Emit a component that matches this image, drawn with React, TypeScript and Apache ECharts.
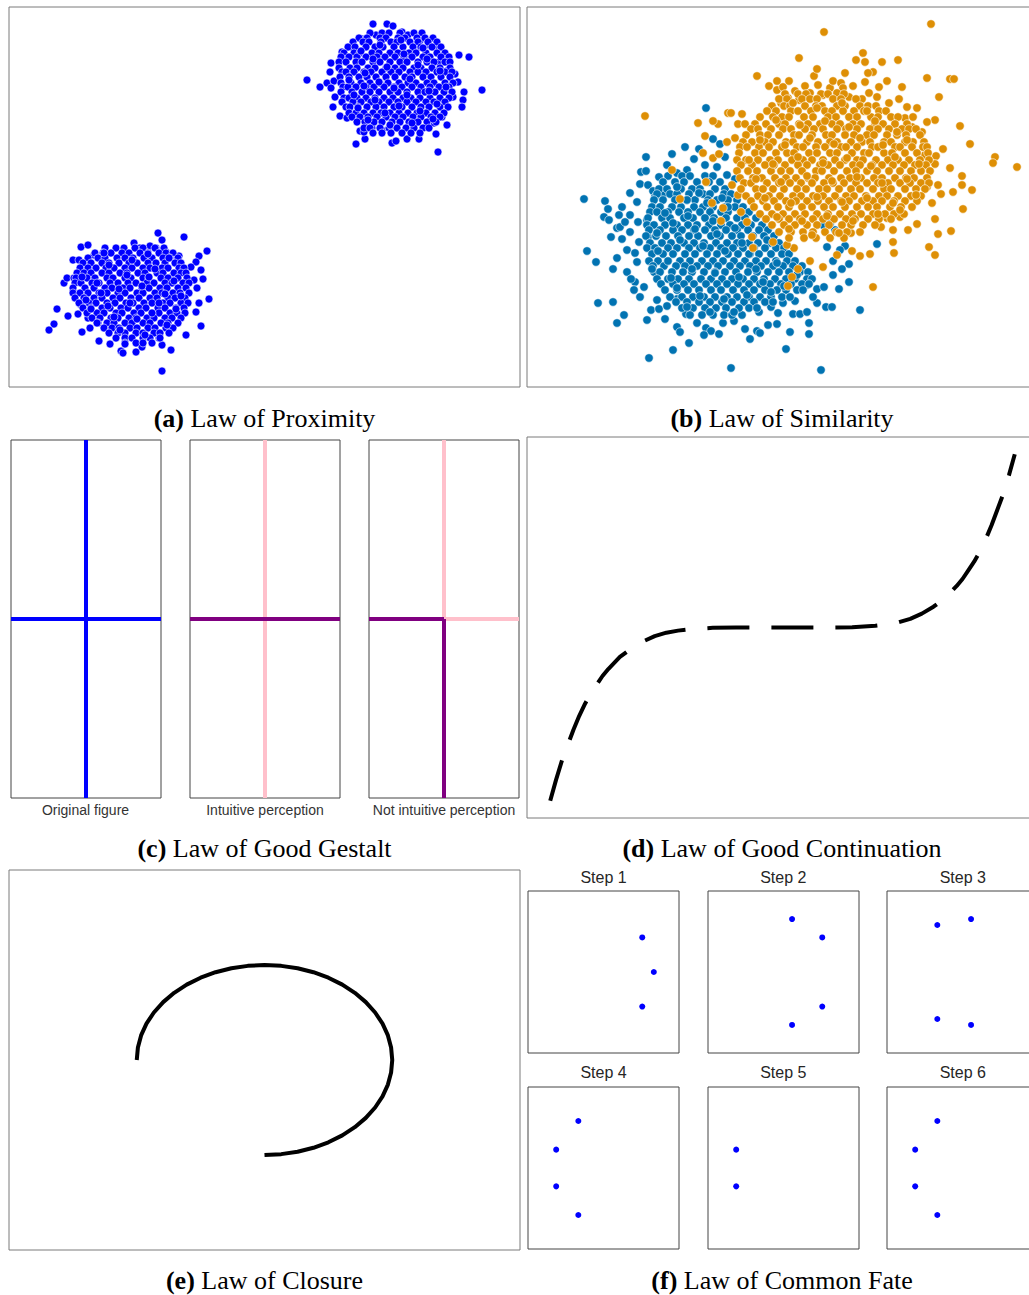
import React, { useEffect, useRef } from "react";
import * as echarts from "echarts";

// ---------- (a) Law of Proximity : two blobs (x right, y down, box units) ----------
// dense rows: [y, x1, x2, ...]
const proxUpperRows: number[][] = [
  [26, 361, 373, 380, 391, 405, 413],
  [31, 350, 358, 371, 377, 389, 396, 408, 416, 424],
  [35, 344, 354, 360, 372, 382, 388, 401, 409, 419, 428],
  [40, 339, 346, 357, 366, 374, 385, 394, 404, 412, 423, 432],
  [46, 335, 345, 351, 363, 370, 381, 389, 400, 407, 417, 428, 436],
  [50, 332, 340, 348, 357, 368, 376, 386, 395, 403, 414, 421, 432, 440],
  [55, 330, 337, 347, 353, 364, 371, 381, 391, 398, 409, 418, 425, 436, 441],
  [61, 330, 341, 348, 359, 366, 377, 386, 394, 405, 412, 423, 431, 441],
  [65, 333, 337, 345, 355, 362, 373, 382, 390, 401, 409, 417, 428, 436, 443],
  [70, 331, 340, 350, 358, 367, 377, 386, 396, 403, 414, 422, 432, 441],
  [76, 332, 342, 352, 361, 371, 379, 390, 399, 407, 418, 425, 436, 444],
  [80, 334, 339, 347, 357, 365, 375, 385, 393, 403, 412, 421, 430, 440],
  [85, 332, 343, 353, 361, 370, 381, 389, 398, 409, 416, 426, 435, 443],
  [91, 335, 340, 348, 357, 366, 375, 384, 394, 402, 411, 421, 431, 440],
  [95, 333, 344, 352, 362, 370, 380, 389, 398, 407, 417, 425, 436],
  [100, 337, 341, 349, 358, 367, 375, 385, 393, 403, 412, 420, 431, 439],
  [106, 340, 347, 355, 364, 372, 381, 390, 399, 408, 417, 426, 435],
  [110, 343, 351, 359, 368, 377, 386, 394, 404, 412, 422, 431],
  [115, 348, 356, 365, 373, 383, 391, 400, 409, 418, 427],
  [121, 355, 361, 371, 380, 388, 397, 405, 414, 420],
  [126, 364, 373, 382, 393, 402, 411],
];
const proxUpperExtra: number[] = [
  352, 44, 371, 38, 395, 47, 418, 52, 431, 64, 356, 66, 378, 60, 401, 72, 420, 84, 345, 88,
  366, 93, 390, 99, 411, 104, 428, 97, 359, 113, 381, 118, 403, 116, 340, 73, 385, 81, 409, 58,
  364, 52, 392, 33, 376, 106, 424, 112, 349, 101, 437, 80, 414, 41, 370, 75, 398, 88, 355, 79,
];
const proxUpperOut: number[] = [
  364, 17, 378, 17, 384, 19, 393, 25, 399, 28, 367, 28, 411, 34, 353, 32, 343, 40, 333, 45,
  335, 50, 322, 56, 321, 65, 298, 73, 311, 80, 318, 76, 325, 74, 322, 81, 326, 90, 324, 100,
  331, 109, 338, 111, 347, 137, 356, 132, 351, 124, 355, 125, 363, 121, 373, 123, 383, 136,
  387, 134, 398, 132, 410, 132, 427, 127, 429, 145, 425, 116, 438, 118, 433, 110, 450, 48,
  460, 50, 473, 83, 455, 85, 454, 93, 453, 100, 444, 90, 449, 75, 446, 67, 439, 63, 430, 55,
  427, 41, 420, 38, 407, 43,
];
const proxLowerRows: number[][] = [
  [241, 96, 107, 115, 126, 134, 146, 155],
  [246, 86, 94, 102, 113, 120, 131, 139, 150, 157, 164],
  [251, 79, 89, 96, 108, 116, 124, 135, 143, 154, 161, 169],
  [256, 74, 82, 93, 100, 110, 120, 128, 139, 147, 156, 166, 172],
  [261, 71, 79, 87, 97, 105, 116, 123, 134, 141, 153, 159, 170, 175],
  [266, 68, 75, 82, 93, 100, 111, 118, 129, 136, 148, 154, 165, 172, 177],
  [271, 67, 78, 86, 98, 104, 116, 122, 134, 140, 152, 159, 169, 178],
  [276, 66, 72, 83, 90, 101, 109, 119, 127, 138, 145, 156, 163, 174, 180],
  [281, 64, 76, 85, 96, 103, 114, 121, 133, 140, 151, 158, 169, 177],
  [286, 64, 71, 79, 90, 98, 109, 116, 128, 134, 146, 153, 164, 171, 180],
  [291, 66, 75, 85, 93, 104, 111, 122, 130, 141, 148, 159, 166, 176],
  [296, 70, 80, 87, 98, 106, 117, 124, 135, 143, 154, 161, 172, 179],
  [301, 74, 82, 93, 101, 112, 119, 130, 137, 149, 156, 167, 175],
  [306, 78, 88, 95, 107, 113, 125, 132, 143, 150, 161, 168, 176],
  [311, 83, 91, 102, 109, 120, 127, 138, 145, 156, 163, 172],
  [316, 89, 98, 105, 116, 123, 134, 141, 152, 159, 169],
  [321, 95, 103, 110, 121, 128, 139, 146, 157, 164],
  [326, 100, 109, 116, 127, 134, 145, 151, 160],
  [331, 107, 116, 123, 134, 141, 151],
  [336, 116, 127, 134, 143],
];
const proxLowerExtra: number[] = [
  100, 258, 123, 253, 146, 262, 165, 274, 88, 276, 110, 282, 133, 279, 156, 287, 77, 293, 99, 299,
  121, 296, 143, 306, 167, 302, 88, 316, 111, 323, 136, 328, 158, 318, 73, 270, 118, 268, 139, 247,
  95, 246, 172, 289, 128, 312, 105, 310, 150, 296, 82, 302, 116, 337, 160, 251, 140, 270, 92, 286,
];
const proxLowerOut: number[] = [
  149, 226, 175, 230, 153, 233, 198, 244, 190, 249, 187, 255, 170, 249, 182, 260, 192, 263,
  194, 272, 185, 273, 188, 281, 200, 292, 190, 296, 187, 305, 176, 296, 192, 319, 177, 328,
  162, 343, 153, 338, 150, 331, 153, 364, 133, 340, 127, 345, 112, 344, 114, 346, 101, 337,
  90, 334, 73, 325, 81, 321, 59, 309, 69, 307, 48, 302, 45, 317, 40, 323, 55, 276, 58, 271,
  65, 271, 64, 253, 70, 253, 72, 240, 79, 238, 85, 248, 125, 236, 131, 241, 141, 239, 147, 241,
  157, 245, 167, 256, 162, 270, 79, 311, 72, 298, 64, 285,
];

// ---------- (b) Law of Similarity : two overlapping groups ----------
const simBlueRows: number[][] = [
  [169, 141, 155, 163, 178, 186],
  [175, 136, 148, 157, 170, 182, 193],
  [182, 132, 140, 154, 165, 173, 188, 198],
  [187, 130, 143, 150, 162, 176, 183, 197, 204],
  [193, 127, 136, 148, 160, 168, 181, 190, 201, 210],
  [200, 125, 133, 145, 154, 167, 176, 186, 198, 208, 216],
  [205, 123, 130, 141, 152, 161, 173, 183, 194, 201, 214, 222],
  [211, 121, 135, 143, 157, 166, 178, 187, 199, 210, 218, 229],
  [218, 120, 127, 138, 150, 161, 170, 182, 194, 203, 215, 224, 235],
  [223, 122, 133, 146, 155, 167, 178, 188, 199, 210, 221, 232, 241],
  [229, 119, 129, 139, 151, 162, 171, 184, 193, 205, 214, 226, 237, 247],
  [236, 123, 135, 144, 157, 167, 177, 189, 200, 210, 222, 231, 243, 252],
  [241, 120, 128, 141, 150, 162, 173, 183, 194, 206, 216, 227, 238, 249, 257],
  [247, 125, 136, 146, 158, 168, 180, 190, 201, 211, 223, 232, 244, 255, 262],
  [254, 122, 131, 141, 153, 163, 175, 186, 196, 207, 218, 229, 239, 249, 260, 268],
  [259, 126, 137, 149, 158, 170, 181, 191, 203, 213, 223, 234, 246, 256, 266, 275],
  [265, 127, 133, 145, 156, 165, 177, 188, 198, 209, 221, 230, 241, 252, 262, 273, 281],
  [272, 130, 141, 151, 162, 174, 184, 195, 205, 216, 227, 237, 248, 259, 268, 280, 285],
  [277, 134, 146, 157, 167, 179, 190, 200, 211, 222, 233, 243, 254, 264, 275, 282],
  [283, 138, 150, 161, 172, 184, 194, 206, 217, 227, 238, 250, 259, 270, 276],
  [290, 143, 155, 166, 177, 188, 200, 210, 222, 233, 244, 255, 263],
  [295, 149, 160, 172, 183, 195, 205, 217, 227, 238, 246],
  [301, 155, 166, 178, 189, 199, 212, 222, 230],
  [308, 163, 175, 186, 197, 205],
];
const simBlueExtra: number[] = [
  150, 180, 172, 186, 195, 191, 138, 206, 161, 209, 186, 214, 208, 221, 130, 226, 153, 233,
  176, 239, 198, 244, 222, 247, 141, 254, 165, 262, 188, 266, 212, 270, 236, 275, 257, 279,
  150, 281, 173, 289, 197, 292, 220, 288, 244, 285, 160, 300, 183, 305, 207, 305, 229, 262,
  250, 256, 131, 244, 125, 262, 144, 271, 240, 233, 215, 236, 190, 227, 168, 222, 146, 216,
  201, 200, 180, 196, 160, 193, 270, 268,
];
const simBlueOut: number[] = [
  179, 101, 119, 150, 145, 147, 167, 152, 160, 163, 150, 166, 114, 165, 119, 164, 113, 177,
  121, 178, 126, 184, 136, 188, 128, 190, 57, 192, 78, 194, 81, 202, 95, 200, 110, 195, 77, 210,
  82, 213, 92, 208, 103, 208, 90, 221, 93, 220, 95, 232, 103, 225, 111, 215, 120, 213, 121, 230,
  60, 244, 69, 255, 90, 251, 100, 243, 108, 246, 110, 255, 100, 265, 86, 262, 108, 275, 117, 280,
  107, 283, 71, 296, 86, 295, 90, 316, 97, 308, 124, 303, 130, 293, 132, 302, 140, 299, 150, 292,
  159, 307, 150, 320, 153, 325, 162, 336, 170, 316, 179, 321, 184, 324, 192, 327, 177, 328,
  146, 343, 122, 351, 204, 361, 207, 314, 215, 308, 218, 322, 223, 332, 230, 324, 233, 326,
  241, 318, 250, 317, 251, 306, 263, 325, 259, 342, 266, 307, 273, 307, 282, 316, 282, 327,
  294, 363, 268, 294, 280, 305, 280, 278, 290, 282, 297, 280, 312, 282, 322, 275, 333, 303,
  350, 237, 290, 296, 299, 300, 305, 300, 322, 257, 315, 262, 306, 268, 306, 254, 318, 239,
  313, 243, 300, 240, 308, 223, 303, 217, 296, 218,
  186, 132, 193, 137, 172, 142, 158, 140, 178, 158, 190, 160, 200, 168, 208, 172, 198, 150,
  140, 158, 132, 170, 103, 186, 98, 215, 84, 230, 112, 235, 104, 272, 113, 290, 120, 313,
  138, 312, 196, 316, 232, 305, 244, 300, 256, 296, 286, 290,
];
const simOrangeRows: number[][] = [
  [87, 258, 271, 279, 294, 301, 317],
  [92, 252, 260, 275, 283, 290, 306, 314, 329],
  [99, 245, 257, 263, 278, 289, 295, 310, 318, 333, 341, 349],
  [104, 240, 249, 264, 271, 284, 298, 305, 316, 327, 337, 352, 359],
  [110, 233, 246, 255, 262, 277, 286, 301, 309, 322, 330, 344, 351, 364, 371],
  [117, 228, 239, 252, 258, 272, 281, 293, 305, 313, 326, 334, 348, 356, 368, 380],
  [122, 224, 231, 244, 256, 264, 278, 287, 296, 310, 319, 330, 343, 351, 362, 375, 382, 389],
  [128, 219, 233, 241, 252, 267, 272, 285, 299, 305, 318, 327, 340, 347, 360, 370, 379, 393],
  [135, 216, 225, 238, 246, 259, 266, 280, 291, 303, 310, 324, 335, 343, 357, 364, 378, 386, 397],
  [140, 213, 220, 232, 242, 255, 270, 276, 289, 298, 314, 319, 330, 345, 351, 368, 373, 385, 396, 400],
  [146, 212, 228, 236, 249, 260, 267, 282, 290, 303, 310, 325, 337, 342, 357, 365, 378, 390, 401],
  [153, 210, 219, 231, 243, 251, 265, 276, 285, 296, 308, 318, 330, 336, 349, 361, 371, 382, 393, 402],
  [158, 214, 225, 238, 247, 258, 271, 280, 293, 301, 313, 326, 333, 345, 355, 366, 377, 388, 399],
  [164, 210, 221, 230, 244, 254, 263, 275, 289, 295, 307, 320, 329, 340, 350, 362, 373, 384, 394, 403],
  [171, 213, 226, 235, 248, 259, 269, 281, 288, 302, 314, 323, 334, 347, 355, 368, 379, 387, 400],
  [176, 217, 224, 240, 252, 263, 274, 285, 297, 306, 317, 329, 340, 351, 361, 373, 383, 394, 402],
  [182, 214, 229, 236, 246, 257, 270, 279, 292, 300, 312, 324, 333, 346, 357, 364, 378, 389, 398],
  [189, 219, 231, 242, 253, 266, 274, 286, 296, 308, 319, 327, 339, 352, 360, 371, 384, 394],
  [194, 224, 236, 247, 259, 269, 280, 291, 302, 314, 322, 335, 346, 355, 367, 378, 390],
  [200, 227, 240, 251, 262, 275, 285, 297, 306, 318, 330, 341, 350, 363, 374, 385],
  [207, 233, 245, 256, 268, 278, 290, 301, 313, 325, 334, 346, 358, 367, 377],
  [212, 239, 252, 262, 273, 286, 296, 307, 319, 328, 341, 352, 364],
  [218, 245, 257, 268, 280, 290, 302, 315, 324, 336, 348],
  [225, 252, 264, 276, 286, 298, 309, 320, 333],
  [231, 262, 277, 289, 303, 317],
];
const simOrangeExtra: number[] = [
  266, 96, 290, 101, 315, 96, 340, 104, 249, 113, 273, 118, 298, 114, 322, 120, 348, 114,
  370, 125, 233, 133, 258, 138, 283, 131, 307, 137, 333, 131, 356, 138, 380, 133, 222, 153,
  246, 157, 271, 150, 296, 156, 320, 151, 344, 159, 368, 150, 392, 157, 229, 172, 254, 175,
  280, 169, 305, 174, 330, 170, 355, 176, 380, 172, 238, 191, 264, 196, 290, 190, 315, 195,
  340, 191, 366, 196, 389, 188, 250, 210, 275, 214, 300, 209, 326, 214, 351, 207, 373, 203,
  285, 228, 312, 226, 262, 222,
];
const simOrangeOut: number[] = [
  118, 109, 171, 116, 178, 129, 176, 146, 186, 151, 192, 147, 145, 163, 179, 175, 153, 192,
  185, 196, 194, 214, 196, 201, 200, 135, 191, 117, 186, 114, 201, 106, 204, 106, 215, 107,
  211, 117, 218, 117, 208, 131, 230, 69, 242, 79, 250, 74, 262, 74, 250, 83, 256, 80, 261, 91,
  254, 96, 272, 51, 278, 79, 272, 93, 287, 69, 291, 78, 297, 25, 303, 81, 306, 74, 314, 76,
  316, 81, 326, 79, 329, 53, 336, 46, 338, 55, 355, 55, 371, 53, 346, 65, 341, 66, 338, 75,
  342, 86, 360, 74, 375, 80, 400, 71, 404, 17, 423, 72, 427, 72, 412, 90, 408, 113, 400, 115,
  390, 101, 378, 111, 386, 110, 433, 119, 443, 137, 468, 150, 466, 156, 490, 160, 423, 161,
  435, 169, 445, 183, 426, 185, 436, 202, 435, 178, 416, 142, 409, 149, 408, 157, 398, 148,
  411, 178, 414, 187, 400, 180, 405, 196, 390, 217, 408, 212, 424, 224, 411, 227, 402, 240,
  408, 248, 381, 223, 366, 223, 366, 235, 367, 246, 346, 280, 343, 247, 333, 249, 325, 244,
  324, 226, 310, 248, 296, 260, 283, 254, 271, 262, 265, 270, 261, 279, 267, 241, 260, 238,
  246, 235, 226, 241, 225, 230, 220, 215, 214, 205, 205, 178, 211, 188, 354, 220, 360, 211,
  373, 210, 268, 84, 283, 86, 296, 88, 310, 86, 322, 90, 335, 92, 350, 90, 362, 96, 318, 66,
  290, 62, 352, 80, 372, 92, 385, 120, 395, 125, 380, 100,
];

// ---------- (c) Law of Good Gestalt : segments [x1, y1, x2, y2] in unit box ----------
const gestaltLabels = ["Original figure", "Intuitive perception", "Not intuitive perception"];
const gestaltSegments: number[][][] = [
  [[0.5, 0, 0.5, 1], [0, 0.5, 1, 0.5]],
  [[0.5, 0, 0.5, 1], [0, 0.5, 1, 0.5]],
  [[0.5, 0.5, 0.5, 1], [0.5, 0.5, 1, 0.5], [0, 0.5, 0.5, 0.5], [0.5, 0, 0.5, 0.5]],
];

// ---------- (d) Law of Good Continuation ----------
const contX = [-1, -0.975, -0.95, -0.925, -0.9, -0.875, -0.85, -0.825, -0.8, -0.775, -0.75, -0.7, -0.65, -0.6, -0.55, -0.5, -0.45, -0.4, -0.3, -0.2, -0.1, 0, 0.1, 0.2, 0.3, 0.4, 0.45, 0.5, 0.55, 0.6, 0.65, 0.7, 0.75, 0.775, 0.8, 0.825, 0.85, 0.875, 0.9, 0.925, 0.95, 0.975, 1];
const contY = [-1, -0.88, -0.77, -0.68, -0.59, -0.51, -0.44, -0.38, -0.33, -0.28, -0.24, -0.17, -0.12, -0.08, -0.05, -0.03, -0.018, -0.01, -0.002, 0, 0, 0, 0, 0, 0.002, 0.01, 0.018, 0.03, 0.05, 0.08, 0.12, 0.17, 0.24, 0.28, 0.33, 0.38, 0.44, 0.51, 0.59, 0.68, 0.77, 0.88, 1];

// ---------- (e) Law of Closure : open arc (three quarters of a circle) ----------
const closureX = [-1, -0.991, -0.966, -0.924, -0.866, -0.793, -0.707, -0.609, -0.5, -0.383, -0.259, -0.131, 0, 0.131, 0.259, 0.383, 0.5, 0.609, 0.707, 0.793, 0.866, 0.924, 0.966, 0.991, 1, 0.991, 0.966, 0.924, 0.866, 0.793, 0.707, 0.609, 0.5, 0.383, 0.259, 0.131, 0];
const closureY = [0, 0.131, 0.259, 0.383, 0.5, 0.609, 0.707, 0.793, 0.866, 0.924, 0.966, 0.991, 1, 0.991, 0.966, 0.924, 0.866, 0.793, 0.707, 0.609, 0.5, 0.383, 0.259, 0.131, 0, -0.131, -0.259, -0.383, -0.5, -0.609, -0.707, -0.793, -0.866, -0.924, -0.966, -0.991, -1];

// ---------- (f) Law of Common Fate ----------
const stepTitles = ["Step 1", "Step 2", "Step 3", "Step 4", "Step 5", "Step 6"];
const stepX = [
  [0.77, 1, 0.77],
  [0.17, 0.77, 0.77, 0.17],
  [-0.5, 0.17, -0.5, 0.17],
  [-0.5, -0.94, -0.94, -0.5],
  [-0.94, -0.94],
  [-0.5, -0.94, -0.94, -0.5],
];
const stepY = [
  [0.64, 0, -0.64],
  [0.98, 0.64, -0.64, -0.98],
  [0.87, 0.98, -0.87, -0.98],
  [0.87, 0.34, -0.34, -0.87],
  [0.34, -0.34],
  [0.87, 0.34, -0.34, -0.87],
];

const captions = [
  ["(a)", "Law of Proximity"],
  ["(b)", "Law of Similarity"],
  ["(c)", "Law of Good Gestalt"],
  ["(d)", "Law of Good Continuation"],
  ["(e)", "Law of Closure"],
  ["(f)", "Law of Common Fate"],
];

// ---------- helpers ----------
function rowsToPoints(rows: number[][]) {
  const out: number[][] = [];
  rows.forEach((r) => {
    for (let i = 1; i < r.length; i++) out.push([r[i], r[0]]);
  });
  return out;
}
function pairUp(flat: number[]) {
  const out: number[][] = [];
  for (let i = 0; i + 1 < flat.length; i += 2) out.push([flat[i], flat[i + 1]]);
  return out;
}
function zip(xs: number[], ys: number[]) {
  return xs.map((x, i) => [x, ys[i]]);
}

const SANS = '"Liberation Sans", Arial, Helvetica, sans-serif';
const SERIF = '"Liberation Serif", "Times New Roman", Times, serif';
const BLUE = "#0000ff";
const PINK = "#ffc0cb";
const PURPLE = "#800080";
const SIM_BLUE = "#0173b2";
const SIM_ORANGE = "#de8f05";
const gestaltColors = [[BLUE, BLUE], [PINK, PURPLE], [PINK, PINK, PURPLE, PURPLE]];

type Panel = { left: number; top: number; width: number; height: number; border: string; xr: number[]; yr: number[]; inv?: boolean };
const LIGHT = "#7a7a7a";
const DARK = "#444444";
const panels: Panel[] = [
  { left: 9, top: 7, width: 511, height: 380, border: LIGHT, xr: [0, 511], yr: [0, 380], inv: true },
  { left: 527, top: 7, width: 511, height: 380, border: LIGHT, xr: [0, 511], yr: [0, 380], inv: true },
  { left: 11, top: 440, width: 150, height: 358, border: DARK, xr: [0, 1], yr: [0, 1] },
  { left: 190, top: 440, width: 150, height: 358, border: DARK, xr: [0, 1], yr: [0, 1] },
  { left: 369, top: 440, width: 150, height: 358, border: DARK, xr: [0, 1], yr: [0, 1] },
  { left: 527, top: 437, width: 511, height: 381, border: LIGHT, xr: [-1.1, 1.1], yr: [-1.1, 1.1] },
  { left: 9, top: 870, width: 511, height: 380, border: LIGHT, xr: [-2, 2], yr: [-2, 2] },
];
const stepLefts = [528, 708, 887];
const stepTops = [891, 1087];
stepTops.forEach((t) =>
  stepLefts.forEach((l) =>
    panels.push({ left: l, top: t, width: 151, height: 162, border: DARK, xr: [-1.5, 1.5], yr: [-1.5, 1.5] })
  )
);

function buildOption() {
  const grid = panels.map((p) => ({
    show: true,
    left: p.left,
    top: p.top,
    width: p.width,
    height: p.height,
    borderColor: p.border,
    borderWidth: 1,
    backgroundColor: "transparent",
    containLabel: false,
  }));
  const xAxis = panels.map((p, i) => ({ gridIndex: i, type: "value", min: p.xr[0], max: p.xr[1], show: false }));
  const yAxis = panels.map((p, i) => ({ gridIndex: i, type: "value", min: p.yr[0], max: p.yr[1], show: false, inverse: !!p.inv }));

  const series: any[] = [];
  const dot = (color: string) => ({ color, borderColor: "#ffffff", borderWidth: 0.6, opacity: 1 });

  series.push({
    type: "scatter",
    xAxisIndex: 0,
    yAxisIndex: 0,
    symbolSize: 8,
    itemStyle: dot(BLUE),
    data: [
      ...pairUp(proxUpperOut),
      ...rowsToPoints(proxUpperRows),
      ...pairUp(proxUpperExtra),
      ...pairUp(proxLowerOut),
      ...rowsToPoints(proxLowerRows),
      ...pairUp(proxLowerExtra),
    ],
  });
  series.push({
    type: "scatter",
    xAxisIndex: 1,
    yAxisIndex: 1,
    symbolSize: 8.5,
    itemStyle: dot(SIM_BLUE),
    data: [...pairUp(simBlueOut), ...rowsToPoints(simBlueRows), ...pairUp(simBlueExtra)],
  });
  series.push({
    type: "scatter",
    xAxisIndex: 1,
    yAxisIndex: 1,
    symbolSize: 8.5,
    itemStyle: dot(SIM_ORANGE),
    data: [...pairUp(simOrangeOut), ...rowsToPoints(simOrangeRows), ...pairUp(simOrangeExtra)],
  });

  gestaltSegments.forEach((segs, k) => {
    segs.forEach((s, j) => {
      series.push({
        type: "line",
        xAxisIndex: 2 + k,
        yAxisIndex: 2 + k,
        symbol: "none",
        data: [[s[0], s[1]], [s[2], s[3]]],
        lineStyle: { color: gestaltColors[k][j], width: 4 },
      });
    });
  });

  series.push({
    type: "line",
    xAxisIndex: 5,
    yAxisIndex: 5,
    symbol: "none",
    data: zip(contX, contY),
    lineStyle: { color: "#000000", width: 4, type: [42, 22] },
  });

  series.push({
    type: "line",
    xAxisIndex: 6,
    yAxisIndex: 6,
    symbol: "none",
    data: zip(closureX, closureY),
    lineStyle: { color: "#000000", width: 4, join: "round" },
  });

  stepX.forEach((xs, k) => {
    series.push({
      type: "scatter",
      xAxisIndex: 7 + k,
      yAxisIndex: 7 + k,
      symbolSize: 6,
      itemStyle: { color: BLUE, opacity: 1 },
      data: zip(xs, stepY[k]),
    });
  });

  const graphic: any[] = [];
  const labelX = [85.5, 265, 444];
  gestaltLabels.forEach((t, i) => {
    graphic.push({
      type: "text",
      x: labelX[i],
      y: 809.5,
      style: { text: t, font: `14px ${SANS}`, fill: "#333333", align: "center", verticalAlign: "middle", textAlign: "center", textVerticalAlign: "middle" },
    });
  });
  const stepCx = [603.5, 783.3, 962.8];
  const stepTy = [877, 1072];
  stepTitles.forEach((t, i) => {
    graphic.push({
      type: "text",
      x: stepCx[i % 3],
      y: stepTy[Math.floor(i / 3)],
      style: { text: t, font: `16px ${SANS}`, fill: "#262626", align: "center", verticalAlign: "middle", textAlign: "center", textVerticalAlign: "middle" },
    });
  });
  const capX = [264.5, 782, 264.5, 782, 264.5, 782];
  const capY = [418, 418, 848, 848, 1280, 1280];
  captions.forEach((c, i) => {
    graphic.push({
      type: "text",
      x: capX[i],
      y: capY[i],
      style: {
        text: `{b|${c[0]}}{n| ${c[1]}}`,
        font: `26px ${SERIF}`,
        fill: "#000000",
        align: "center",
        verticalAlign: "middle",
        textAlign: "center",
        textVerticalAlign: "middle",
        rich: {
          b: { fontFamily: SERIF, fontSize: 26, fontWeight: "bold", fill: "#000000", color: "#000000" },
          n: { fontFamily: SERIF, fontSize: 26, fontWeight: "normal", fill: "#000000", color: "#000000" },
        },
      },
    });
  });

  return {
    animation: false,
    backgroundColor: "#ffffff",
    grid,
    xAxis,
    yAxis,
    series,
    graphic,
  };
}

export default function App() {
  const ref = useRef<HTMLDivElement>(null);
  useEffect(() => {
    if (!ref.current) return;
    const chart = echarts.init(ref.current, null, { renderer: "svg" });
    chart.setOption(buildOption() as any);
    return () => {
      chart.dispose();
    };
  }, []);
  return (
    <div style={{ position: "absolute", left: 0, top: 0, width: 1029, height: 1295, overflow: "hidden", background: "#ffffff" }}>
      <div ref={ref} style={{ width: 1050, height: 1295 }} />
    </div>
  );
}
